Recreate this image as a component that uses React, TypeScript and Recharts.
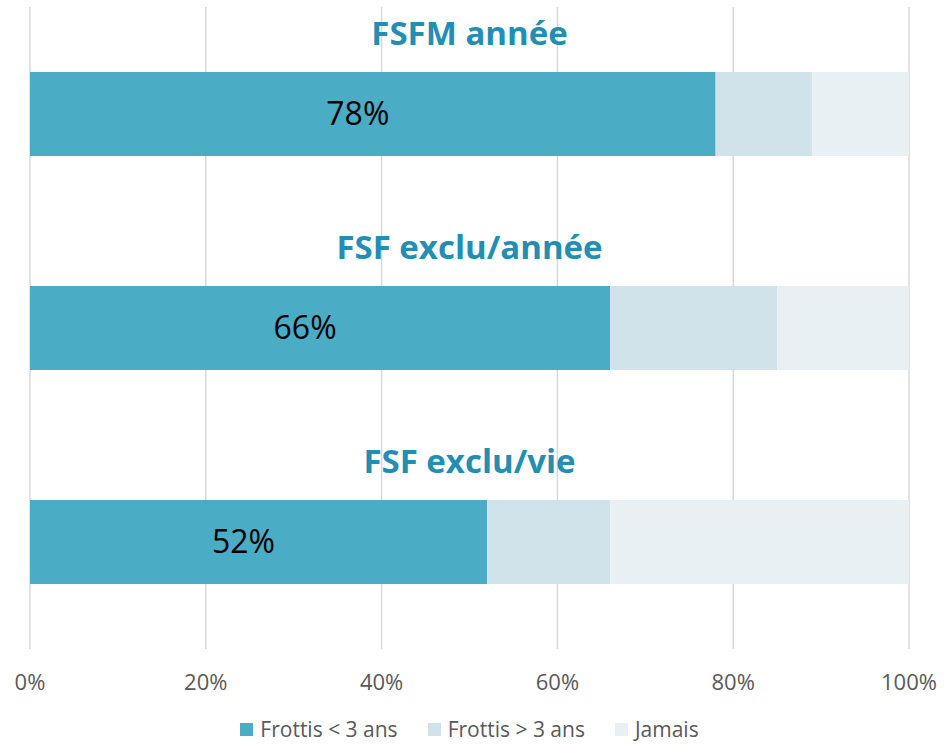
import { BarChart, Bar, XAxis, YAxis, CartesianGrid, Legend, LabelList } from 'recharts'

// shares of women by screening status, per group
const categories = ['FSFM année', 'FSF exclu/année', 'FSF exclu/vie']
const recent = [0.78, 0.66, 0.52]
const older = [0.11, 0.19, 0.14]
const never = [0.11, 0.15, 0.34]
const xTicks = [0, 0.2, 0.4, 0.6, 0.8, 1]
const seriesNames = ['Frottis < 3 ans', 'Frottis > 3 ans', 'Jamais']
const colors = ['#4BACC6', '#D0E3EA', '#E8F0F4']

const W = 944
const H = 745
const M = { top: 7, right: 35, bottom: 0, left: 30 }
const plotWidth = W - M.left - M.right
const FONT = '"Open Sans", sans-serif'

const data = categories.map((name, i) => ({
  name,
  recent: recent[i],
  older:  older[i],
  never:  never[i],
}))

const pct = (v: number) => `${Math.round(v * 100)}%`

function TitleLabel(props: any) {
  const { x, y, index } = props
  return (
    <text
      x={x + plotWidth / 2}
      y={y - 40}
      textAnchor="middle"
      dominantBaseline="central"
      fill="#238EB3"
      fontWeight="bold"
      fontSize={33}
      fontFamily={FONT}
    >
      {categories[index]}
    </text>
  )
}

function LegendContent() {
  return (
    <div style={{ display: 'flex', justifyContent: 'center', alignItems: 'center', height: 32, gap: 30, fontFamily: FONT, fontSize: 21, lineHeight: '32px', color: '#595959' }}>
      {seriesNames.map((n, i) => (
        <span key={n} style={{ display: 'flex', alignItems: 'center', gap: 7 }}>
          <span style={{ width: 13, height: 13, background: colors[i], display: 'inline-block' }} />
          {n}
        </span>
      ))}
    </div>
  )
}

export default function App() {
  return (
    <div style={{ position: 'absolute', left: 0, top: 0, width: W, height: H, background: '#fff' }}>
      <BarChart width={W} height={H} data={data} layout="vertical" margin={M}>
        <CartesianGrid horizontal={false} stroke="#D9D9D9" strokeWidth={1.5} />
        <XAxis
          type="number"
          domain={[0, 1]}
          ticks={xTicks}
          tickFormatter={pct}
          axisLine={false}
          tickLine={false}
          tickSize={0}
          tickMargin={25}
          height={64}
          interval={0}
          tick={{ fontSize: 22, fill: '#595959', fontFamily: FONT }}
        />
        <YAxis type="category" dataKey="name" hide />
        <Legend verticalAlign="bottom" content={<LegendContent />} wrapperStyle={{ height: 32 }} />
        <Bar dataKey="recent" stackId="a" fill={colors[0]} barSize={84} name={seriesNames[0]} isAnimationActive={false}>
          <LabelList dataKey="recent" content={<TitleLabel />} />
          <LabelList dataKey="recent" position="center" dx={-15} formatter={(v: any) => pct(Number(v))} fill="#000" fontSize={32} fontFamily={FONT} />
        </Bar>
        <Bar dataKey="older" stackId="a" fill={colors[1]} barSize={84} name={seriesNames[1]} isAnimationActive={false} />
        <Bar dataKey="never" stackId="a" fill={colors[2]} barSize={84} name={seriesNames[2]} isAnimationActive={false} />
      </BarChart>
    </div>
  )
}
